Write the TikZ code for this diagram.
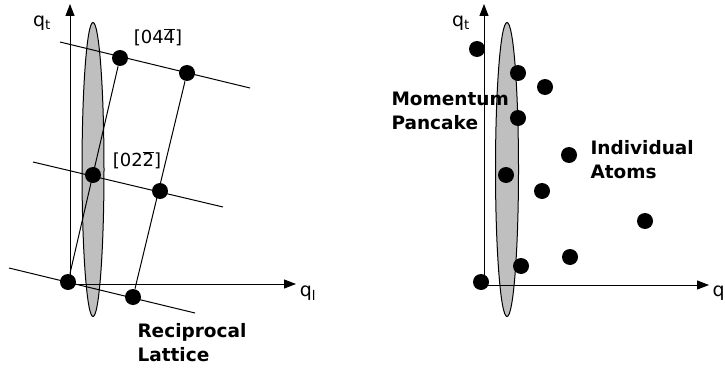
\documentclass[tikz,border=0pt]{standalone}
\usepackage{fontspec}
\setmainfont{DejaVu Sans}
\usetikzlibrary{arrows.meta}

\begin{document}
\begin{tikzpicture}[x=1pt,y=-1pt,line width=1pt,
    dot/.style={circle,fill=black,inner sep=0pt,minimum size=16pt},
    axis/.style={-{Triangle[length=12pt,width=9pt]}},
    pancake/.style={draw=black,fill=gray!50},
    lab/.style={font=\fontsize{19}{20}\selectfont,inner sep=0pt},
    tag/.style={font=\fontsize{18.5}{24}\selectfont\bfseries,align=left,inner sep=0pt}]
  \useasboundingbox (0,0) rectangle (725,369);
  % reciprocal lattice
  \draw[pancake] (93,169.5) ellipse [x radius=11pt,y radius=147pt];
  \coordinate (o) at (70,284);
  \coordinate (tt) at (70,4);
  \coordinate (lt) at (296,284);
  \draw[axis] (o) -- (tt);
  \draw[axis] (o) -- (lt);
  \node[lab] (qt) at (42,23) {q\textsubscript{t}};
  \node[lab] (ql) at (308,293) {q\textsubscript{l}};
  \node[dot] (p00) at (68,282) {};
  \node[dot] (p01) at (133,297) {};
  \node[dot] (p10) at (93,175) {};
  \node[dot] (p11) at (160,191) {};
  \node[dot] (p20) at (120,58) {};
  \node[dot] (p21) at (187,73) {};
  \coordinate (a0) at (9,268);   \coordinate (b0) at (195,313);
  \coordinate (a1) at (33,162);  \coordinate (b1) at (223,207);
  \coordinate (a2) at (60,42);   \coordinate (b2) at (250,88);
  \draw (a0) -- (b0);
  \draw (a1) -- (b1);
  \draw (a2) -- (b2);
  \draw (p00) -- (p20);
  \draw (p01) -- (p21);
  \node[lab,font=\fontsize{18}{20}\selectfont] (h44) at (158,38) {[04\smash{$\overline{\mbox{4}}$}]};
  \node[lab,font=\fontsize{18}{20}\selectfont] (h22) at (137,161) {[02\smash{$\overline{\mbox{2}}$}]};
  \node[tag,anchor=west] (rl) at (137,343) {Reciprocal\\Lattice};
  % individual atoms
  \draw[pancake] (507,169.5) ellipse [x radius=11.5pt,y radius=147pt];
  \coordinate (o2) at (484,285);
  \coordinate (tt2) at (484,4);
  \coordinate (lt2) at (709,285);
  \draw[axis] (o2) -- (tt2);
  \draw[axis] (o2) -- (lt2);
  \node[lab] (qt2) at (461,23) {q\textsubscript{t}};
  \node[lab,anchor=west] (ql2) at (712,293) {q\textsubscript{l}};
  \node[dot] (s1) at (477,49) {};
  \node[dot] (s2) at (518,73) {};
  \node[dot] (s3) at (545,87) {};
  \node[dot] (s4) at (518,118) {};
  \node[dot] (s5) at (569,155) {};
  \node[dot] (s6) at (506,175) {};
  \node[dot] (s7) at (542,191) {};
  \node[dot] (s8) at (645,221) {};
  \node[dot] (s9) at (570,257) {};
  \node[dot] (s10) at (521,266) {};
  \node[dot] (s11) at (481,282) {};
  \node[tag,anchor=west] (mp) at (391,111) {Momentum\\Pancake};
  \node[tag,anchor=west] (ia) at (590,160) {Individual\\Atoms};
\end{tikzpicture}
\end{document}
